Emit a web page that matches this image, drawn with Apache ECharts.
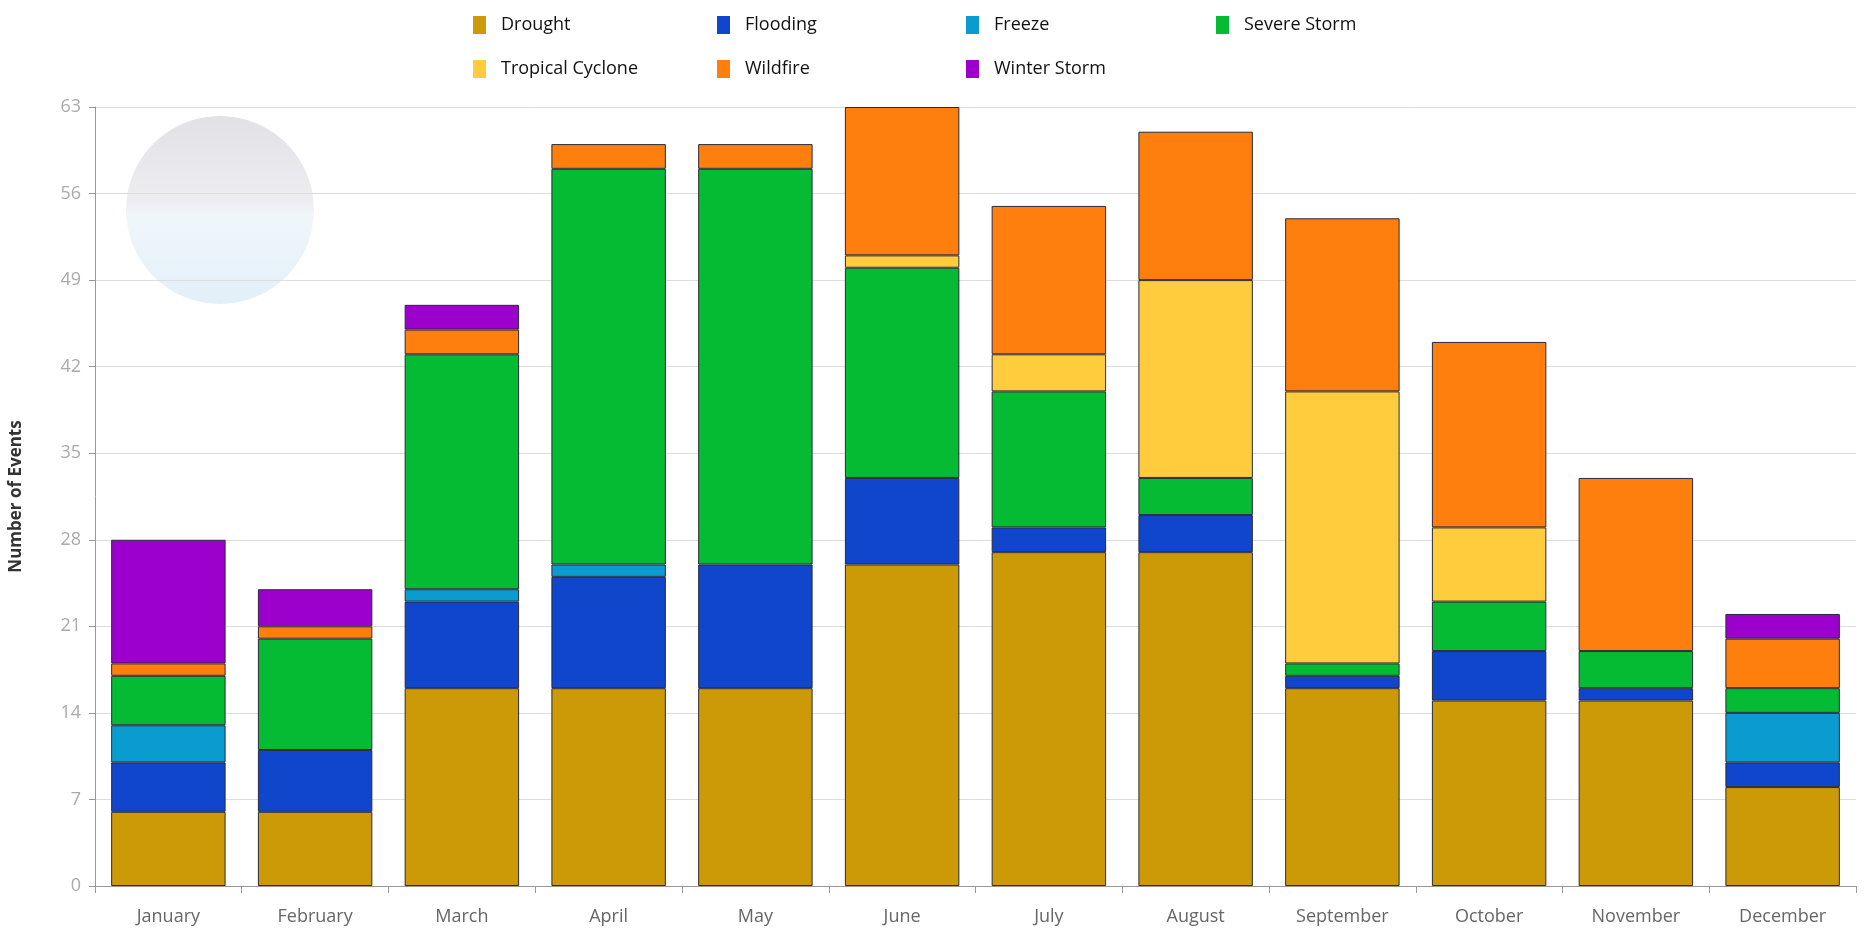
<!DOCTYPE html>
<html>
<head>
<meta charset="utf-8">
<script src="https://cdn.jsdelivr.net/npm/echarts@6/dist/echarts.min.js"></script>
<style>
  html, body { margin: 0; padding: 0; background: #fff; }
  #chart { width: 1864px; height: 934px; }
</style>
</head>
<body>
<div id="chart"></div>
<script>
// months and y ticks
var months = ["January", "February", "March", "April", "May", "June",
              "July", "August", "September", "October", "November", "December"];
var yTicks = [0, 7, 14, 21, 28, 35, 42, 49, 56, 63];

// events per month, one array per type
var drought         = [6, 6, 16, 16, 16, 26, 27, 27, 16, 15, 15, 8];
var flooding        = [4, 5, 7, 9, 10, 7, 2, 3, 1, 4, 1, 2];
var freeze          = [3, 0, 1, 1, 0, 0, 0, 0, 0, 0, 0, 4];
var severeStorm     = [4, 9, 19, 32, 32, 17, 11, 3, 1, 4, 3, 2];
var tropicalCyclone = [0, 0, 0, 0, 0, 1, 3, 16, 22, 6, 0, 0];
var wildfire        = [1, 1, 2, 2, 2, 12, 12, 12, 14, 15, 14, 4];
var winterStorm     = [10, 3, 2, 0, 0, 0, 0, 0, 0, 0, 0, 2];

var typeNames  = ["Drought", "Flooding", "Freeze", "Severe Storm", "Tropical Cyclone", "Wildfire", "Winter Storm"];
var typeColors = ["#cc9a06", "#0f46cc", "#0b9ccf", "#05bb33", "#ffcc3d", "#ff7f0e", "#9c00cc"];
var typeData   = [drought, flooding, freeze, severeStorm, tropicalCyclone, wildfire, winterStorm];

// legend slots (two rows, fixed columns like the original)
var legendPos = [[468, 11], [712, 11], [961, 11], [1211, 11], [468, 55], [712, 55], [961, 55]];

var font = "'Open Sans', 'DejaVu Sans', sans-serif";

var series = typeNames.map(function (name, i) {
    return {
        name: name,
        type: "bar",
        stack: "events",
        barCategoryGap: "22%",
        data: typeData[i].map(function (v) { return v === 0 ? null : v; }),
        itemStyle: { color: typeColors[i], borderColor: "#2a2a3a", borderWidth: 1 },
        emphasis: { disabled: true }
    };
});

var legends = typeNames.map(function (name, i) {
    return {
        data: [name],
        left: legendPos[i][0],
        top: legendPos[i][1],
        icon: "rect",
        itemWidth: 13,
        itemHeight: 18,
        itemGap: 0,
        itemStyle: { borderWidth: 0 },
        textStyle: { fontFamily: font, fontSize: 18, color: "#111", padding: [0, 0, 0, 10] },
        selectedMode: false
    };
});

var chart = echarts.init(document.getElementById("chart"));
chart.setOption({
    animation: false,
    backgroundColor: "#fff",
    legend: legends,
    graphic: [{
        // faint logo watermark
        type: "circle",
        left: 126,
        top: 116,
        shape: { r: 94 },
        silent: true,
        z: -1,
        style: {
            opacity: 0.5,
            fill: {
                type: "linear", x: 0, y: 0, x2: 0, y2: 1,
                colorStops: [{ offset: 0, color: "#c4c4cc" }, { offset: 0.45, color: "#dcdce3" },
                             { offset: 0.55, color: "#dfeef7" }, { offset: 1, color: "#c6e0f2" }]
            }
        }
    }],
    grid: { left: 94, right: 8, top: 107, bottom: 48 },
    xAxis: {
        type: "category",
        data: months,
        axisLine: { lineStyle: { color: "#999" } },
        axisTick: { show: true, length: 7, lineStyle: { color: "#999" } },
        axisLabel: { fontFamily: font, fontSize: 18, color: "#666", margin: 22 }
    },
    yAxis: {
        type: "value",
        min: yTicks[0],
        max: yTicks[yTicks.length - 1],
        interval: yTicks[1] - yTicks[0],
        name: "Number of Events",
        nameLocation: "middle",
        nameGap: 70,
        nameTextStyle: { fontFamily: font, fontSize: 17, fontWeight: "bold", color: "#333" },
        axisLine: { show: true, lineStyle: { color: "#999" } },
        axisTick: { show: true, length: 6, lineStyle: { color: "#999" } },
        axisLabel: { fontFamily: font, fontSize: 18, color: "#aaa", margin: 14 },
        splitLine: { lineStyle: { color: "#ddd" } }
    },
    series: series
});
</script>
</body>
</html>
